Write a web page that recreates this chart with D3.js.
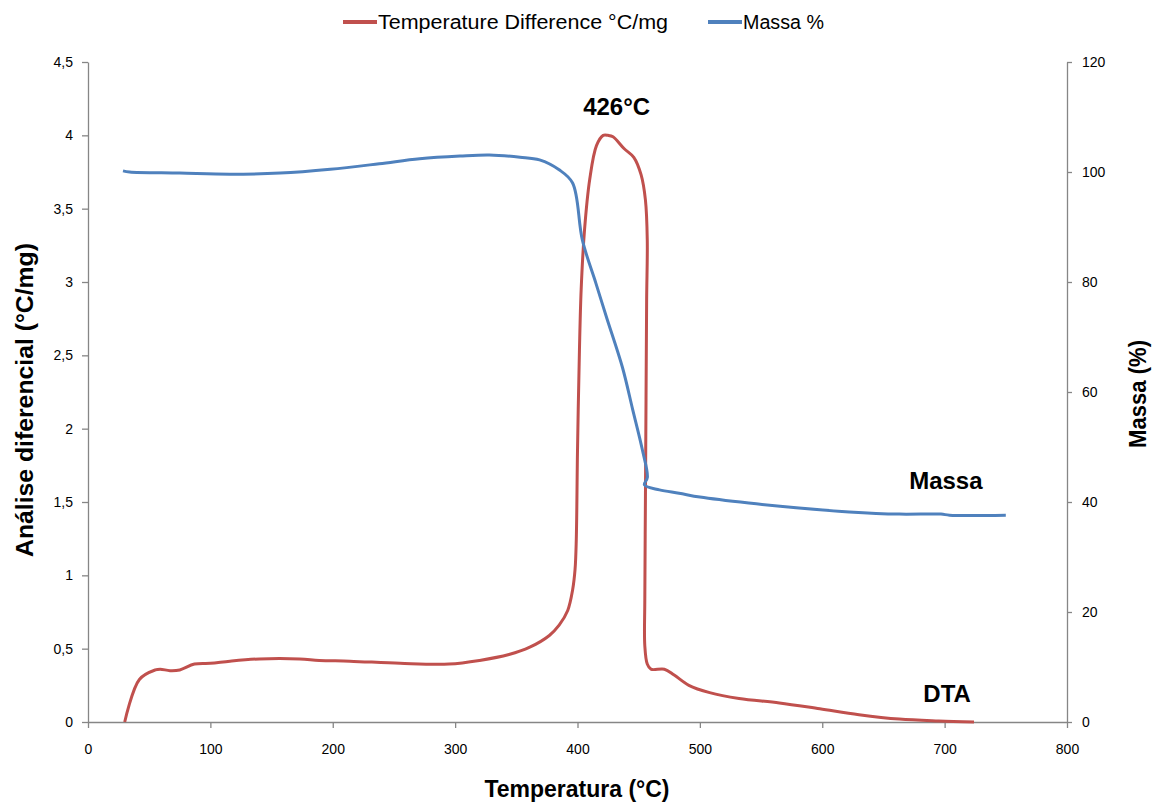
<!DOCTYPE html>
<html>
<head>
<meta charset="utf-8">
<script src="https://cdn.jsdelivr.net/npm/d3@7"></script>
<style>
  body { margin: 0; background: #fff; }
  svg { display: block; }
  .tick text { font-family: "Liberation Sans", Arial, sans-serif; font-size: 14px; fill: #000; }
  .title { font-family: "Liberation Sans", Arial, sans-serif; font-weight: bold; font-size: 24px; fill: #000; }
  .note { font-family: "Liberation Sans", Arial, sans-serif; font-weight: bold; font-size: 24px; fill: #000; }
  .legend text { font-family: "Liberation Sans Narrow", "Liberation Sans", Arial, sans-serif; font-size: 20px; fill: #000; }
</style>
</head>
<body>
<svg id="chart" width="1153" height="804"></svg>
<script>
// DTA curve: temperature (°C) and difference (°C/mg)
const dtaTemp = [30, 42, 55, 59, 67, 75, 87, 100, 116, 140, 173, 189, 214, 255, 295, 320, 344, 361, 377,
  385, 392, 396, 398, 399, 400, 401.6, 403, 405.7, 410, 415.5, 421, 425, 429, 438, 446, 452, 455.5,
  457, 456.5, 456, 455.5, 455, 455, 457, 460, 471, 479, 491, 508, 532, 565, 598, 630, 663, 695, 724];
const dtaValue = [0, 0.29, 0.355, 0.36, 0.35, 0.355, 0.395, 0.40, 0.415, 0.43, 0.43, 0.42, 0.415, 0.40, 0.395, 0.42, 0.46, 0.51, 0.59,
  0.66, 0.76, 0.90, 1.04, 1.24, 1.85, 2.54, 2.95, 3.35, 3.70, 3.93, 4.0, 4.0, 3.99, 3.91, 3.85, 3.73, 3.56,
  3.29, 2.88, 2.20, 1.51, 0.83, 0.52, 0.395, 0.36, 0.36, 0.32, 0.25, 0.20, 0.16, 0.13, 0.09, 0.05, 0.02, 0.007, 0];

// Mass curve: temperature (°C) and mass (%)
const massTemp = [28.6, 34, 75, 116, 157, 198, 238, 271, 304, 328, 353, 369, 385, 396, 404, 415,
  423.7, 436.7, 445, 453, 457.1, 454.7, 467, 483, 500, 540, 581, 622, 663, 697, 704, 750];
const massValue = [100.2, 100, 99.8, 99.6, 99.8, 100.5, 101.5, 102.4, 102.9, 103.1, 102.7, 102.2, 100.4, 98, 87.6, 79.8,
  73.6, 64.5, 56.9, 49.5, 44.5, 43.1, 42.2, 41.6, 40.9, 39.8, 38.9, 38.2, 37.8, 37.8, 37.6, 37.6];

const xTicks = [0, 100, 200, 300, 400, 500, 600, 700, 800];
const leftTicks = [0, 0.5, 1, 1.5, 2, 2.5, 3, 3.5, 4, 4.5];
const rightTicks = [0, 20, 40, 60, 80, 100, 120];
const seriesNames = ["Temperature Difference °C/mg", "Massa %"];
const seriesColors = ["#C0504D", "#4F81BD"];

const margin = {top: 62, right: 86, bottom: 82, left: 88};
const width = 1153 - margin.left - margin.right;
const height = 804 - margin.top - margin.bottom;

const svg = d3.select("#chart");
const g = svg.append("g").attr("transform", `translate(${margin.left},${margin.top})`);

const x = d3.scaleLinear().domain([0, 800]).range([0, width]);
const yLeft = d3.scaleLinear().domain([0, 4.5]).range([height, 0]);
const yRight = d3.scaleLinear().domain([0, 120]).range([height, 0]);

const commaFmt = d => String(d).replace(".", ",");

function styleAxis(sel) {
  sel.selectAll(".domain").attr("stroke", "#868686").attr("stroke-width", 1.3);
  sel.selectAll(".tick line").attr("stroke", "#868686").attr("stroke-width", 1.3);
}

g.append("g")
    .attr("transform", `translate(0,${height})`)
    .call(d3.axisBottom(x).tickValues(xTicks).tickSize(6).tickPadding(16).tickSizeOuter(0))
    .call(styleAxis);

g.append("g")
    .call(d3.axisLeft(yLeft).tickValues(leftTicks).tickFormat(commaFmt).tickSize(6).tickPadding(9).tickSizeOuter(0))
    .call(styleAxis);

g.append("g")
    .attr("transform", `translate(${width},0)`)
    .call(d3.axisRight(yRight).tickValues(rightTicks).tickSize(5).tickPadding(10).tickSizeOuter(0))
    .call(styleAxis);

const dtaData = dtaTemp.map((t, i) => [t, dtaValue[i]]);
const massData = massTemp.map((t, i) => [t, massValue[i]]);

g.append("path")
    .datum(dtaData)
    .attr("fill", "none")
    .attr("stroke", seriesColors[0])
    .attr("stroke-width", 3)
    .attr("stroke-linejoin", "round")
    .attr("d", d3.line().x(d => x(d[0])).y(d => yLeft(d[1])).curve(d3.curveCatmullRom.alpha(0.5)));

g.append("path")
    .datum(massData)
    .attr("fill", "none")
    .attr("stroke", seriesColors[1])
    .attr("stroke-width", 3)
    .attr("stroke-linejoin", "round")
    .attr("d", d3.line().x(d => x(d[0])).y(d => yRight(d[1])).curve(d3.curveCatmullRom.alpha(0.5)));

// annotations
g.append("text").attr("class", "note").attr("text-anchor", "middle")
    .attr("x", x(432)).attr("y", yLeft(4.0) - 20).text("426°C");
g.append("text").attr("class", "note").attr("text-anchor", "middle")
    .attr("x", x(701)).attr("y", yRight(38) - 24).text("Massa");
g.append("text").attr("class", "note").attr("text-anchor", "middle")
    .attr("x", x(702)).attr("y", yLeft(0) - 20).text("DTA");

// axis titles
svg.append("text").attr("class", "title").attr("text-anchor", "middle")
    .attr("x", 577).attr("y", 797)
    .attr("textLength", 185).attr("lengthAdjust", "spacingAndGlyphs")
    .text("Temperatura (°C)");
svg.append("text").attr("class", "title").attr("text-anchor", "middle")
    .attr("transform", `translate(33,400) rotate(-90)`)
    .attr("textLength", 314).attr("lengthAdjust", "spacingAndGlyphs")
    .text("Análise diferencial (°C/mg)");
svg.append("text").attr("class", "title").attr("text-anchor", "middle")
    .attr("transform", `translate(1146,394) rotate(-90)`)
    .attr("textLength", 108).attr("lengthAdjust", "spacingAndGlyphs")
    .text("Massa (%)");

// legend
const legend = svg.append("g").attr("class", "legend");
const legendX = [343, 708];
const legendW = [290, 81];
seriesNames.forEach((name, i) => {
  const item = legend.append("g").attr("transform", `translate(${legendX[i]},22)`);
  item.append("line").attr("x1", 0).attr("x2", 34).attr("y1", 0).attr("y2", 0)
      .attr("stroke", seriesColors[i]).attr("stroke-width", 4);
  item.append("text").attr("x", 35).attr("y", 7)
      .attr("textLength", legendW[i]).attr("lengthAdjust", "spacingAndGlyphs")
      .text(name);
});
</script>
</body>
</html>
